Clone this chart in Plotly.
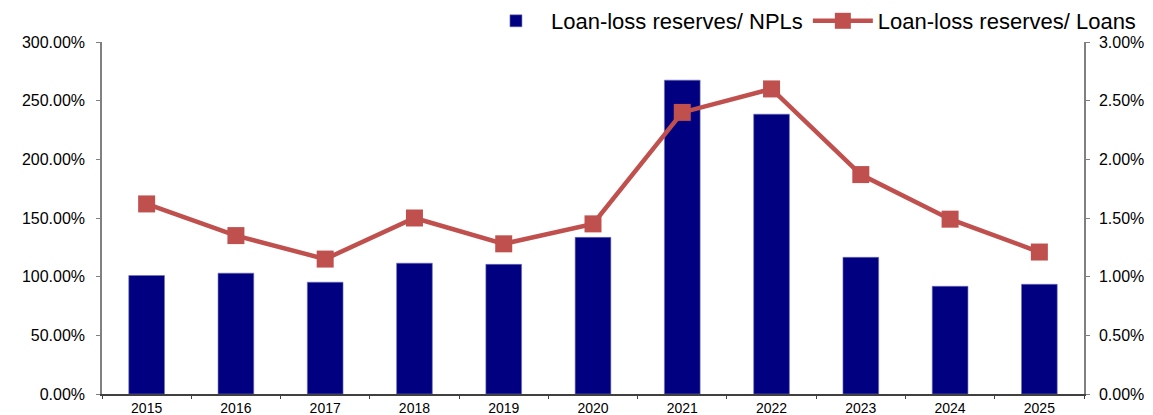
import plotly.graph_objects as go

years = ["2015", "2016", "2017", "2018", "2019", "2020", "2021", "2022", "2023", "2024", "2025"]
reserves_npl = [101.0, 103.0, 95.3, 111.5, 110.5, 133.5, 267.5, 238.5, 116.5, 91.8, 93.5]
reserves_loans = [1.62, 1.35, 1.15, 1.50, 1.28, 1.45, 2.40, 2.60, 1.87, 1.49, 1.21]

fig = go.Figure()
fig.add_trace(go.Bar(
    x=years, y=[v / 100 for v in reserves_npl], name="Loan-loss reserves/ NPLs",
    marker=dict(color="#000080", line=dict(color="#7070b8", width=0.6)),
    width=0.4, yaxis="y",
))
fig.add_trace(go.Scatter(
    x=years, y=[v / 100 for v in reserves_loans], name="Loan-loss reserves/ Loans",
    mode="lines+markers", line=dict(color="#C0504D", width=4.5),
    marker=dict(symbol="square", size=17, color="#C0504D"),
    yaxis="y2",
))

font_family = "Liberation Sans, Arial, sans-serif"
fig.update_layout(
    width=1153, height=415,
    margin=dict(l=102, r=69, t=42, b=21, autoexpand=False),
    paper_bgcolor="white", plot_bgcolor="white",
    font=dict(family=font_family, size=15, color="#000000"),
    showlegend=True,
    legend=dict(orientation="h", xref="paper", yref="paper",
                x=1.058, xanchor="right", y=1.0, yanchor="bottom",
                font=dict(size=22, color="#000000"), bgcolor="rgba(0,0,0,0)",
                traceorder="normal", itemwidth=60),
    bargap=0.6,
    xaxis=dict(range=[-0.5, 10.5], showline=True, linecolor="#404040", linewidth=1.5,
               ticks="outside", tickson="boundaries", ticklen=3, tickcolor="#404040",
               showgrid=False, tickfont=dict(size=14), automargin=False),
    yaxis=dict(range=[0, 3], tickvals=[0, 0.5, 1, 1.5, 2, 2.5, 3], tickformat=".2%",
               showline=True, linecolor="#808080", linewidth=1.5,
               ticks="outside", ticklen=4, tickcolor="#808080", ticklabelstandoff=8,
               showgrid=False, zeroline=False, tickfont=dict(size=16), automargin=False),
    yaxis2=dict(range=[0, 0.03], tickvals=[0, 0.005, 0.01, 0.015, 0.02, 0.025, 0.03], tickformat=".2%",
                overlaying="y", side="right",
                showline=True, linecolor="#808080", linewidth=1.5,
                ticks="outside", ticklen=4, tickcolor="#808080", ticklabelstandoff=6,
                showgrid=False, zeroline=False, tickfont=dict(size=16), automargin=False),
)

fig.write_html("out.html")
